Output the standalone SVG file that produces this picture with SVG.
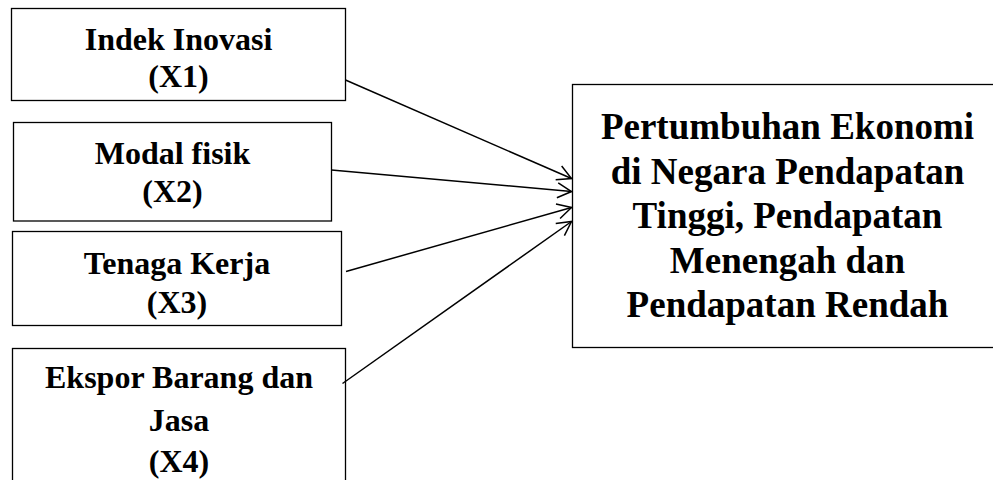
<svg xmlns="http://www.w3.org/2000/svg" width="993" height="480" viewBox="0 0 993 480">
<style>
.box{fill:#fff;stroke:#000;stroke-width:1.3}
.t{font-family:"Liberation Serif","Times New Roman",serif;font-weight:bold;fill:#000;text-anchor:middle}
.s{font-size:32px}
.l{font-size:37px}
.c{fill:none;stroke:#000;stroke-width:1.5}
</style>
<defs>
<marker id="ah" markerUnits="userSpaceOnUse" markerWidth="30" markerHeight="30" viewBox="-20 -15 30 30" refX="0" refY="0" orient="auto">
<path d="M-14,-7.5 L0,0 L-14,7.5" fill="none" stroke="#000" stroke-width="1.5"/>
</marker>
</defs>
<rect width="993" height="480" fill="#fff"/>
<g id="n1">
<rect class="box" x="11.5" y="8.5" width="334" height="92"/>
<text class="t s" x="178.5" y="50">Indek Inovasi</text>
<text class="t s" x="178.5" y="87">(X1)</text>
</g>
<g id="n2">
<rect class="box" x="13.5" y="122.5" width="318" height="98.5"/>
<text class="t s" x="172.5" y="164">Modal fisik</text>
<text class="t s" x="172.5" y="202">(X2)</text>
</g>
<g id="n3">
<rect class="box" x="12.5" y="231.5" width="329" height="94"/>
<text class="t s" x="177" y="273.5">Tenaga Kerja</text>
<text class="t s" x="177" y="312.5">(X3)</text>
</g>
<g id="n4">
<rect class="box" x="12.5" y="348.5" width="333" height="140"/>
<text class="t s" x="179" y="388">Ekspor Barang dan</text>
<text class="t s" x="179" y="431">Jasa</text>
<text class="t s" x="179" y="472">(X4)</text>
</g>
<g id="n5">
<rect class="box" x="572.5" y="84.5" width="430" height="263"/>
<text class="t l" x="787.5" y="139">Pertumbuhan Ekonomi</text>
<text class="t l" x="787.5" y="183.5">di Negara Pendapatan</text>
<text class="t l" x="787.5" y="228">Tinggi, Pendapatan</text>
<text class="t l" x="787.5" y="272.5">Menengah dan</text>
<text class="t l" x="787.5" y="317">Pendapatan Rendah</text>
</g>
<g id="connectors">
<line class="c" x1="345.5" y1="80" x2="571.5" y2="178.5" marker-end="url(#ah)"/>
<line class="c" x1="331.5" y1="170" x2="571.5" y2="191.5" marker-end="url(#ah)"/>
<line class="c" x1="346" y1="271.5" x2="571.5" y2="207.5" marker-end="url(#ah)"/>
<line class="c" x1="342.5" y1="383.5" x2="571.5" y2="221.5" marker-end="url(#ah)"/>
</g>
</svg>
